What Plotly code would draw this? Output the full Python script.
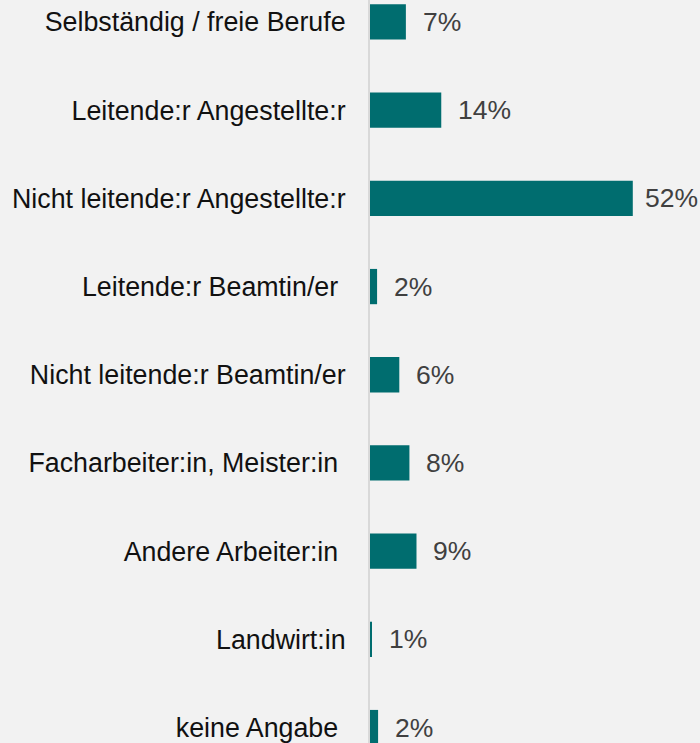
import plotly.graph_objects as go

categories = [
    "Selbständig / freie Berufe",
    "Leitende:r Angestellte:r",
    "Nicht leitende:r Angestellte:r",
    "Leitende:r Beamtin/er\u00a0",
    "Nicht leitende:r Beamtin/er",
    "Facharbeiter:in, Meister:in\u00a0",
    "Andere Arbeiter:in\u00a0",
    "Landwirt:in",
    "keine Angabe\u00a0",
]
values = [7.1, 14.1, 52.0, 1.4, 5.8, 7.8, 9.2, 0.4, 1.6]
labels = ["7%", "14%", "52%", "2%", "6%", "8%", "9%", "1%", "2%"]

FONT = "Liberation Sans, Arial, sans-serif"
BG = "#f2f2f2"
BAR = "#006d6f"

fig = go.Figure()
fig.add_trace(go.Bar(
    x=values, y=categories, orientation="h",
    marker=dict(color=BAR, line=dict(width=0)),
    width=0.4, hoverinfo="skip",
))

for v, c, t in zip(values, categories, labels):
    fig.add_annotation(
        x=v, y=c, text=t, showarrow=False, xanchor="left", yanchor="middle",
        xshift=15 if v < 40 else 10,
        font=dict(family=FONT, size=26.5, color="#404040"),
    )

fig.update_layout(
    width=700, height=743,
    margin=dict(l=370, r=0, t=0, b=0, pad=0),
    paper_bgcolor=BG, plot_bgcolor=BG,
    showlegend=False,
    xaxis=dict(range=[0, 65.3], visible=False, fixedrange=True),
    yaxis=dict(
        type="category",
        range=[8.175, -0.249],
        showline=True, linecolor="#d9d9d9", linewidth=2,
        showgrid=False, zeroline=False,
        ticks="", ticklabelstandoff=17,
        tickfont=dict(family=FONT, size=26.8, color="#111111"),
    ),
)

fig.write_html(
    "out.html",
    config={"displayModeBar": False},
    post_script="document.body.style.margin='0';document.body.style.overflow='hidden';",
)
